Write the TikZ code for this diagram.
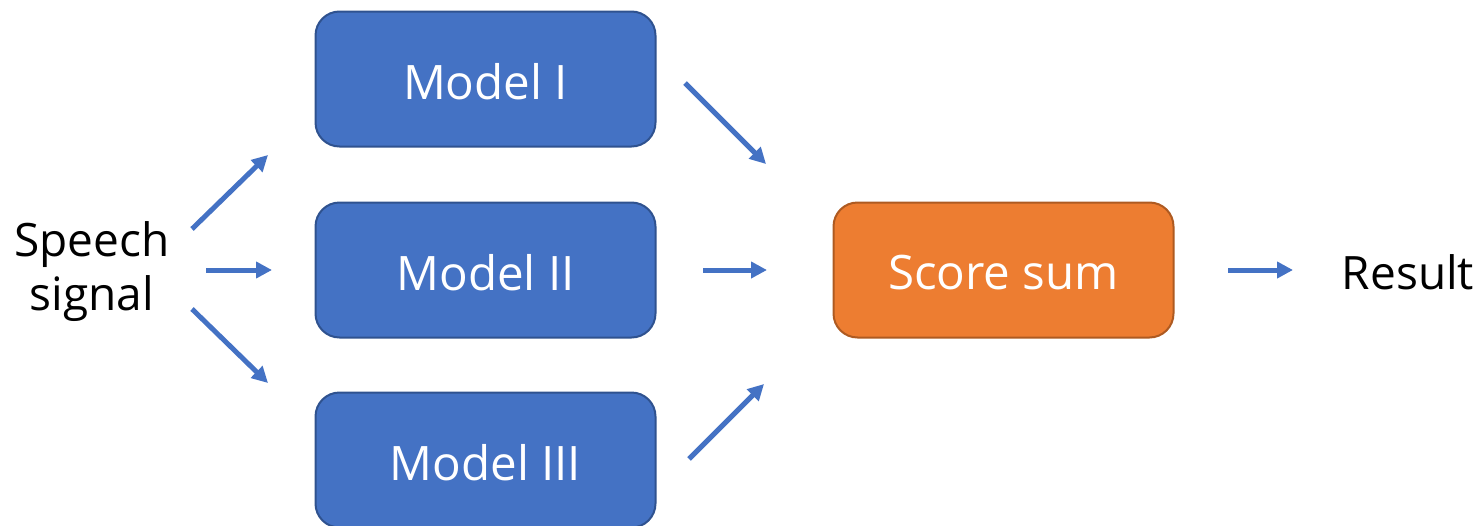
\documentclass[tikz,border=0pt]{standalone}
\usepackage{fontspec}
\setmainfont{Open Sans}
\usetikzlibrary{arrows.meta}
\definecolor{mblue}{HTML}{4472C4}
\definecolor{mblueb}{HTML}{2F528F}
\definecolor{morange}{HTML}{ED7D31}
\definecolor{morangeb}{HTML}{AE5A21}
\newcommand{\lowtext}[1]{\raisebox{-3pt}[\height][\depth]{#1}}
\tikzset{
  modelbox/.style={draw=mblueb, fill=mblue, line width=2pt, rounded corners=24pt,
    minimum width=340pt, minimum height=135pt, text=white, inner sep=0pt,
    font=\fontsize{47.5}{54}\selectfont},
  sumbox/.style={modelbox, draw=morangeb, fill=morange},
  plain/.style={text=black, inner sep=0pt, align=center, font=\fontsize{46}{54}\selectfont},
  flow/.style={draw=mblue, line width=5pt, -{Triangle[length=16pt,width=16pt]}}
}
\begin{document}
\begin{tikzpicture}[x=1pt,y=-1pt]
\useasboundingbox (0,0) rectangle (1481,525);
\clip (0,0) rectangle (1481,525);
\node[modelbox] (m1) at (485.5,79) {\lowtext{Model I}};
\node[modelbox] (m2) at (485.5,270) {\lowtext{Model II}};
\node[modelbox] (m3) at (485.5,460) {\lowtext{Model III}};
\node[sumbox] (sum) at (1003.5,270) {\lowtext{Score sum}};
\node[plain] (speech) at (92,272) {Speech\\signal};
\node[plain] (result) at (1408,272) {Result};
\coordinate (a1s) at (192,229); \coordinate (a1e) at (268,155);
\coordinate (a2s) at (206,270); \coordinate (a2e) at (272,270);
\coordinate (a3s) at (192,309); \coordinate (a3e) at (268,383);
\coordinate (b1s) at (685,83);  \coordinate (b1e) at (766,164);
\coordinate (b2s) at (703,270); \coordinate (b2e) at (767,270);
\coordinate (b3s) at (689,459); \coordinate (b3e) at (764,384);
\coordinate (cs) at (1228,270); \coordinate (ce) at (1293,270);
\draw[flow] (a1s) -- (a1e);
\draw[flow] (a2s) -- (a2e);
\draw[flow] (a3s) -- (a3e);
\draw[flow] (b1s) -- (b1e);
\draw[flow] (b2s) -- (b2e);
\draw[flow] (b3s) -- (b3e);
\draw[flow] (cs) -- (ce);
\end{tikzpicture}
\end{document}
